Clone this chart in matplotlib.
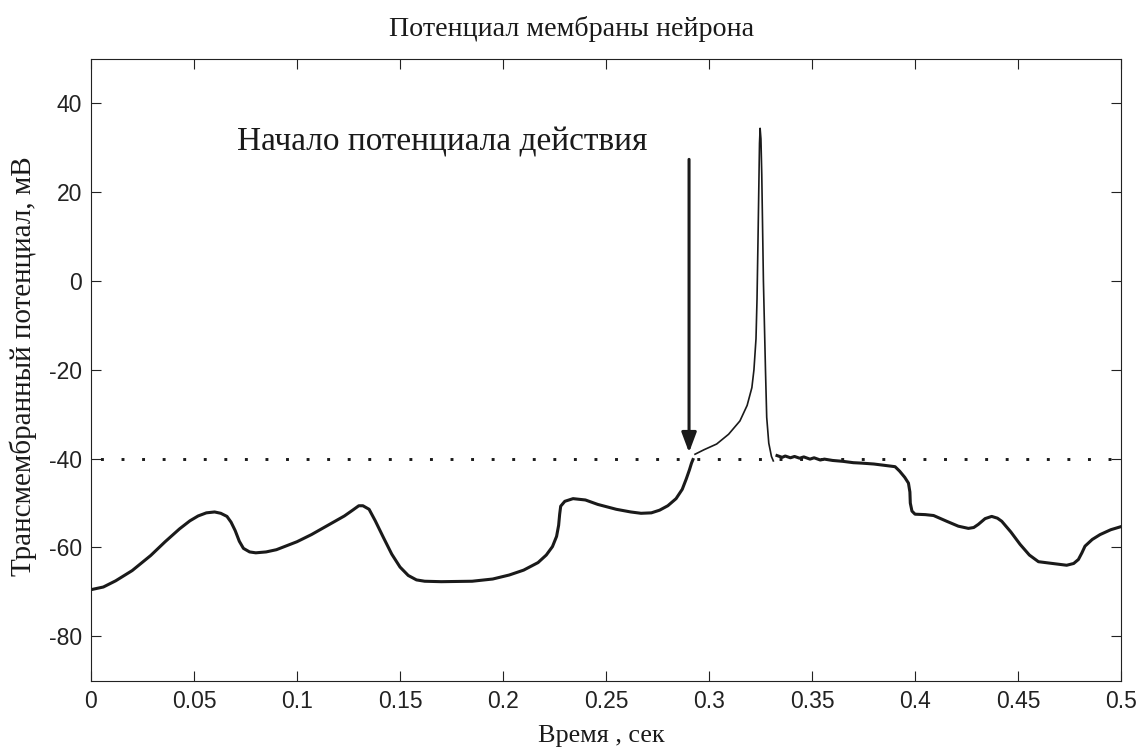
import numpy as np
import matplotlib
matplotlib.use("Agg")
import matplotlib.pyplot as plt

plt.rcParams['axes.unicode_minus'] = False

# membrane potential (time in s, potential in mV)
# part before the action potential onset
t_rest = [0.000, 0.006, 0.012, 0.020, 0.029, 0.036, 0.043, 0.048, 0.052, 0.056,
          0.060, 0.063, 0.066, 0.068, 0.070, 0.072, 0.074, 0.077, 0.080, 0.085,
          0.090, 0.100, 0.107, 0.115, 0.123, 0.127, 0.130, 0.132, 0.135, 0.138,
          0.142, 0.146, 0.150, 0.154, 0.158, 0.162, 0.170, 0.185, 0.195, 0.203,
          0.210, 0.217, 0.221, 0.224, 0.226, 0.227, 0.2275, 0.228, 0.230, 0.234,
          0.240, 0.246, 0.255, 0.262, 0.267, 0.272, 0.276, 0.280, 0.284, 0.287,
          0.289, 0.2905, 0.2915, 0.2922]
v_rest = [-69.5, -68.9, -67.5, -65.2, -61.8, -58.7, -55.8, -54.0, -52.9, -52.2,
          -52.0, -52.3, -53.0, -54.3, -56.2, -58.6, -60.2, -61.0, -61.2, -61.0,
          -60.5, -58.7, -57.1, -55.0, -52.9, -51.6, -50.6, -50.6, -51.4, -54.0,
          -57.8, -61.5, -64.4, -66.3, -67.3, -67.6, -67.7, -67.6, -67.1, -66.2,
          -65.1, -63.4, -61.7, -59.8, -57.5, -55.0, -52.5, -50.7, -49.6, -49.0,
          -49.3, -50.3, -51.4, -52.0, -52.3, -52.2, -51.6, -50.6, -49.0, -46.9,
          -44.5, -42.5, -41.0, -40.2]

# action potential (spike)
t_spike = [0.2932, 0.2975, 0.3037, 0.3095, 0.3150, 0.3185, 0.3208, 0.3218, 0.3228,
           0.3233, 0.3238, 0.3242, 0.3245, 0.3248, 0.3252, 0.3256, 0.3260, 0.3264,
           0.3268, 0.3274, 0.3280, 0.3290, 0.3303, 0.3312]
v_spike = [-39.0, -38.0, -36.7, -34.5, -31.5, -28.0, -24.0, -20.0, -13.0,
           -4.0, 10.0, 22.0, 31.0, 34.4, 32.0, 24.0, 12.0, 0.0,
           -8.0, -20.0, -30.7, -36.5, -39.5, -40.5]

# after the spike
t_after = [0.3330, 0.3355, 0.3370, 0.3395, 0.3415, 0.3440, 0.3460, 0.3490, 0.3510,
           0.3540, 0.3560, 0.3600, 0.3650, 0.3700, 0.3740, 0.3800, 0.3903, 0.3925,
           0.3950, 0.3968, 0.3975, 0.3977, 0.3985, 0.4000, 0.4050, 0.4090, 0.4154,
           0.4210, 0.4259, 0.4285, 0.4307, 0.4340, 0.4372, 0.4400, 0.4421, 0.4465,
           0.4510, 0.4555, 0.4599, 0.4650, 0.4736, 0.4770, 0.4793, 0.4810, 0.4825,
           0.4860, 0.4898, 0.4950, 0.5000]
v_after = [-39.3, -39.7, -39.4, -39.8, -39.5, -39.9, -39.6, -40.1, -39.8,
           -40.3, -40.1, -40.4, -40.6, -40.9, -41.0, -41.2, -41.8, -42.8,
           -44.2, -45.5, -47.5, -50.0, -51.8, -52.5, -52.6, -52.8, -54.1,
           -55.2, -55.7, -55.5, -54.8, -53.5, -53.0, -53.4, -54.1, -56.5,
           -59.3, -61.7, -63.2, -63.5, -64.0, -63.6, -62.7, -61.2, -59.7,
           -58.2, -57.1, -56.0, -55.3]

threshold = -40
onset_t = 0.2903
arrow_top = 27.4
arrow_tip = -38.6

xticks = [0, 0.05, 0.1, 0.15, 0.2, 0.25, 0.3, 0.35, 0.4, 0.45, 0.5]
xticklabels = ['0', '0.05', '0.1', '0.15', '0.2', '0.25', '0.3', '0.35', '0.4', '0.45', '0.5']
yticks = [-80, -60, -40, -20, 0, 20, 40]

fig = plt.figure(figsize=(11.43, 7.51), dpi=100)
ax = fig.add_axes([0.0796, 0.0936, 0.9012, 0.8278])

lc = '#1a1a1a'
# threshold level, square dots
ax.plot([0, 0.5], [threshold, threshold], color=lc, lw=2.1,
        linestyle=(3.8, (1, 6.05)), dash_capstyle='butt')
ax.plot(t_rest, v_rest, color=lc, lw=2.2, solid_joinstyle='round')
ax.plot(t_spike, v_spike, color=lc, lw=1.2, solid_joinstyle='round')
ax.plot(t_after, v_after, color=lc, lw=2.2, solid_joinstyle='round')

ax.annotate('', xy=(onset_t, arrow_tip), xytext=(onset_t, arrow_top),
            arrowprops=dict(arrowstyle='-|>,head_width=0.45,head_length=1.2',
                            color=lc, lw=2.2, shrinkA=0, shrinkB=0))
ax.text(0.1704, 31.3, 'Начало потенциала действия', family='Liberation Serif',
        fontsize=24, ha='center', va='center', color=lc)

ax.set_xlim(0, 0.5)
ax.set_ylim(-90, 50)
ax.set_xticks(xticks)
ax.set_xticklabels(xticklabels)
ax.set_yticks(yticks)
ax.tick_params(direction='in', length=7.5, width=0.8, top=True, right=True,
               labelsize=16.5, colors='#222222')
ax.tick_params(axis='x', pad=7)
ax.tick_params(axis='y', pad=6.5)
for lab in ax.get_xticklabels() + ax.get_yticklabels():
    lab.set_family('Liberation Sans')
for sp in ax.spines.values():
    sp.set_linewidth(0.8)
    sp.set_color('#222222')

fig.text(0.5, 0.961, 'Потенциал мембраны нейрона', family='Liberation Serif',
         fontsize=20.2, ha='center', va='center', color=lc)
fig.text(0.526, 0.02, 'Время , сек', family='Liberation Serif',
         fontsize=18.8, ha='center', va='center', color=lc)
fig.text(0.02, 0.513, 'Трансмембранный потенциал, мВ', family='Liberation Serif',
         fontsize=21, ha='center', va='center', rotation=90, color=lc)

fig.savefig('out.png', dpi=100)
